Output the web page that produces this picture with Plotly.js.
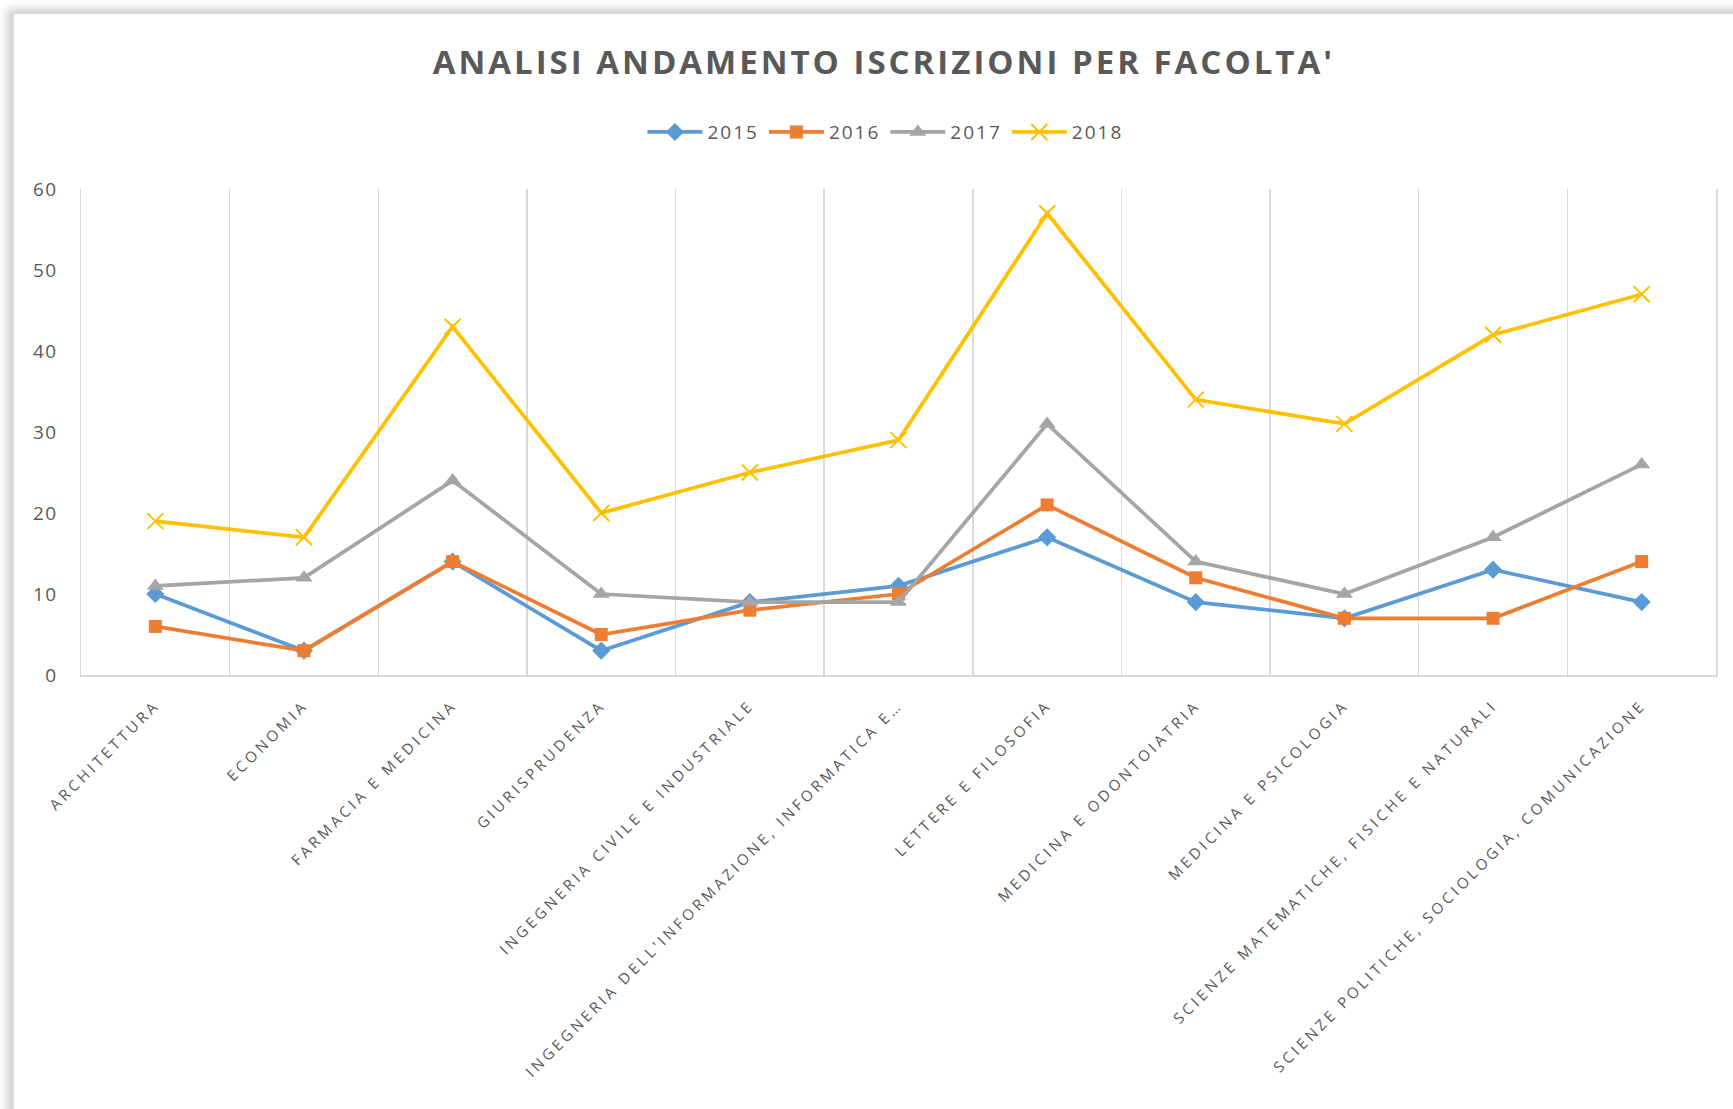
<!DOCTYPE html>
<html>
<head>
<meta charset="utf-8">
<script src="https://cdn.plot.ly/plotly-3.0.1.min.js"></script>
<style>
  html, body { margin: 0; padding: 0; background: #ffffff; }
  #wrap { position: relative; width: 1733px; height: 1109px; overflow: hidden; }
  #chart { width: 1733px; height: 1109px; }
  #frame {
    position: absolute; left: 12px; top: 12px; width: 1800px; height: 1200px;
    border-left: 2px solid #d9d9d9; border-top: 2px solid #d9d9d9;
    box-shadow: -5px -3px 9px rgba(0,0,0,0.2);
    pointer-events: none; z-index: 5;
  }
  .xtick text { letter-spacing: 3.5px; }
  .ytick text { letter-spacing: 1.5px; }
  .gtitle { letter-spacing: 3px; }
  .legendtext { letter-spacing: 2px; }
</style>
</head>
<body>
<div id="wrap">
  <div id="chart"></div>
  <div id="frame"></div>
</div>
<script>
const categories = [
  "ARCHITETTURA",
  "ECONOMIA",
  "FARMACIA E MEDICINA",
  "GIURISPRUDENZA",
  "INGEGNERIA CIVILE E INDUSTRIALE",
  "INGEGNERIA DELL'INFORMAZIONE, INFORMATICA E…",
  "LETTERE E FILOSOFIA",
  "MEDICINA E ODONTOIATRIA",
  "MEDICINA E PSICOLOGIA",
  "SCIENZE MATEMATICHE, FISICHE E NATURALI",
  "SCIENZE POLITICHE, SOCIOLOGIA, COMUNICAZIONE"
];
const seriesNames = ["2015", "2016", "2017", "2018"];
const values2015 = [10, 3, 14, 3, 9, 11, 17, 9, 7, 13, 9];
const values2016 = [6, 3, 14, 5, 8, 10, 21, 12, 7, 7, 14];
const values2017 = [11, 12, 24, 10, 9, 9, 31, 14, 10, 17, 26];
const values2018 = [19, 17, 43, 20, 25, 29, 57, 34, 31, 42, 47];
const yTickValues = [0, 10, 20, 30, 40, 50, 60];

const colors = ["#5B9BD5", "#ED7D31", "#A5A5A5", "#FFC000"];
const symbols = ["diamond", "square", "triangle-up", "x-thin-open"];
const sizes = [14, 13, 15, 16];
const allValues = [values2015, values2016, values2017, values2018];

const traces = allValues.map((vals, i) => ({
  type: "scatter",
  mode: "lines+markers",
  name: seriesNames[i],
  x: categories,
  y: vals,
  line: { color: colors[i], width: 3.75 },
  marker: {
    symbol: symbols[i],
    size: sizes[i],
    color: colors[i],
    line: { color: colors[i], width: i === 3 ? 2 : 0 }
  }
}));

const textColor = "#595959";
const layout = {
  width: 1733,
  height: 1109,
  paper_bgcolor: "#ffffff",
  plot_bgcolor: "#ffffff",
  margin: { l: 81, r: 17, t: 189, b: 434 },
  font: { family: "Open Sans, sans-serif", color: textColor },
  title: {
    text: "ANALISI ANDAMENTO ISCRIZIONI PER FACOLTA'",
    font: { family: "Open Sans, sans-serif", size: 33, weight: 700, color: textColor },
    xref: "container", x: 0.51, xanchor: "center",
    yref: "container", y: 0.944, yanchor: "middle"
  },
  showlegend: true,
  legend: {
    orientation: "h",
    xref: "paper", x: 0.492, xanchor: "center",
    yref: "paper", y: 1.117, yanchor: "middle",
    font: { family: "Open Sans, sans-serif", size: 19, color: textColor },
    itemwidth: 55,
    tracegroupgap: 0
  },
  xaxis: {
    type: "category",
    range: [-0.5, 10.5],
    autorange: false,
    tickson: "boundaries",
    showgrid: true,
    gridcolor: "#d9d9d9",
    gridwidth: 1.5,
    showline: true,
    linecolor: "#d9d9d9",
    linewidth: 1.5,
    ticks: "",
    tickangle: -45,
    tickfont: { family: "Open Sans, sans-serif", size: 15, color: textColor },
    ticklabelstandoff: 14,
    mirror: false,
    zeroline: false,
    fixedrange: true
  },
  yaxis: {
    range: [0, 60],
    autorange: false,
    tickvals: yTickValues,
    showgrid: false,
    zeroline: false,
    showline: true,
    mirror: true,
    linecolor: "#d9d9d9",
    linewidth: 1.5,
    ticks: "",
    ticklabelstandoff: 18,
    tickfont: { family: "Open Sans, sans-serif", size: 19, color: textColor },
    fixedrange: true
  }
};

Plotly.newPlot("chart", traces, layout, { displayModeBar: false, staticPlot: true });
</script>
</body>
</html>
